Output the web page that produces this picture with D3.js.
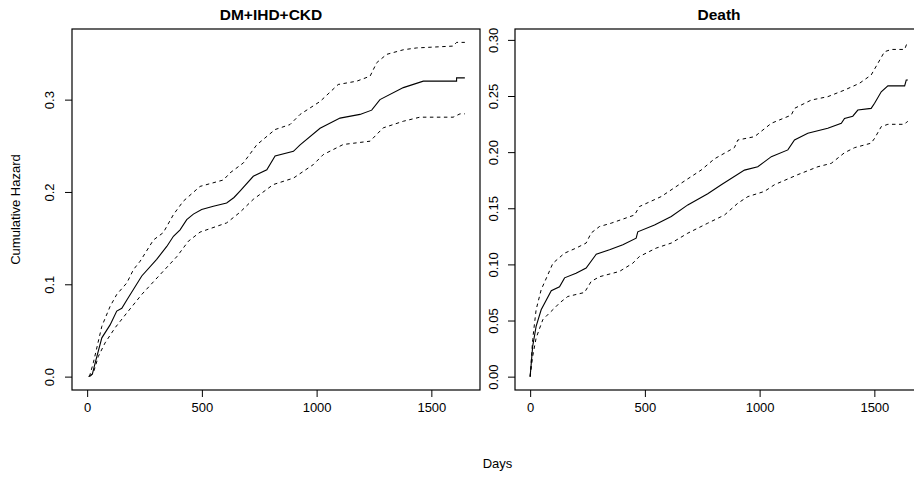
<!DOCTYPE html>
<html>
<head>
<meta charset="utf-8">
<script src="https://cdn.jsdelivr.net/npm/d3@7"></script>
<style>
  body { margin: 0; background: #fff; }
  svg { display: block; overflow: hidden; font-family: "Liberation Sans", Arial, sans-serif; }
</style>
</head>
<body>
<script>
/***** Data *****/
var panelTitles = ["DM+IHD+CKD", "Death"];
var xTicks = [0, 500, 1000, 1500];
var yTicksDm = [0, 0.1, 0.2, 0.3];
var yTicksDeath = [0, 0.05, 0.10, 0.15, 0.20, 0.25, 0.30];

// [days, cumulative hazard]
var dmEst = [[6,0],[23,0.003],[35,0.015],[64,0.042],[100,0.056],[129,0.071],[151,0.074],[173,0.083],[238,0.109],[303,0.127],[347,0.141],[376,0.152],[405,0.159],[434,0.170],[463,0.176],[499,0.181],[550,0.1845],[608,0.188],[640,0.194],[666,0.201],[724,0.217],[783,0.224],[819,0.239],[899,0.244],[928,0.251],[1015,0.269],[1102,0.280],[1189,0.284],[1240,0.2886],[1276,0.300],[1378,0.313],[1465,0.320],[1610,0.320],[1610,0.3236],[1646,0.3236]];
var dmUpper = [[10,0],[27,0.015],[64,0.0545],[100,0.076],[129,0.089],[173,0.1015],[202,0.116],[231,0.125],[289,0.148],[332,0.156],[376,0.1755],[419,0.190],[492,0.206],[594,0.213],[623,0.2207],[681,0.2315],[739,0.251],[819,0.2676],[884,0.273],[928,0.284],[1015,0.298],[1094,0.3164],[1175,0.320],[1233,0.3254],[1262,0.340],[1305,0.349],[1378,0.354],[1436,0.356],[1595,0.358],[1610,0.362],[1646,0.362]];
var dmLower = [[13,0],[27,0.004],[49,0.022],[78,0.0365],[122,0.053],[173,0.069],[238,0.089],[318,0.1105],[391,0.130],[441,0.1466],[492,0.1565],[608,0.1665],[666,0.178],[724,0.192],[811,0.208],[899,0.215],[986,0.2297],[1029,0.2405],[1116,0.2514],[1233,0.255],[1290,0.2694],[1378,0.2766],[1450,0.281],[1595,0.281],[1625,0.2846],[1646,0.2846]];

var deathEst = [[0,0],[11,0.027],[26,0.0447],[48,0.0596],[92,0.0765],[128,0.080],[150,0.088],[200,0.0922],[244,0.0967],[288,0.109],[346,0.113],[404,0.1174],[462,0.1234],[469,0.129],[542,0.135],[615,0.1426],[687,0.153],[774,0.163],[833,0.171],[934,0.184],[992,0.187],[1051,0.196],[1123,0.202],[1152,0.2108],[1210,0.2168],[1297,0.2213],[1356,0.2257],[1370,0.230],[1406,0.232],[1428,0.2375],[1486,0.239],[1501,0.2435],[1530,0.2538],[1559,0.259],[1632,0.259],[1639,0.2642],[1646,0.2642]];
var deathUpper = [[0,0],[11,0.033],[26,0.0596],[48,0.0774],[77,0.0907],[99,0.101],[150,0.110],[200,0.1145],[244,0.119],[266,0.128],[302,0.1337],[353,0.1367],[455,0.144],[476,0.1515],[571,0.1604],[658,0.1723],[745,0.184],[803,0.194],[890,0.204],[905,0.2108],[978,0.2138],[1051,0.2257],[1138,0.233],[1152,0.239],[1225,0.2464],[1297,0.2494],[1370,0.2553],[1435,0.2613],[1486,0.2687],[1515,0.279],[1544,0.2894],[1574,0.2915],[1632,0.2915],[1643,0.2974],[1646,0.2974]];
var deathLower = [[0,0],[11,0.018],[26,0.0344],[55,0.0507],[84,0.0567],[106,0.061],[128,0.0656],[164,0.0714],[237,0.075],[266,0.0848],[302,0.089],[389,0.0937],[447,0.101],[476,0.107],[549,0.1145],[615,0.119],[687,0.1278],[774,0.1367],[847,0.144],[905,0.1545],[949,0.1604],[1021,0.165],[1065,0.171],[1167,0.180],[1254,0.187],[1312,0.190],[1370,0.1995],[1414,0.204],[1486,0.208],[1501,0.2123],[1530,0.2227],[1559,0.2248],[1632,0.2248],[1643,0.2272],[1646,0.2272]];

(function (d3) {
  "use strict";

  /***** Configuration *****/
  var width = 914, height = 478;
  var plotTop = 29, plotBottom = 390;
  var xDomain = [-66, 1712];

  var svg = d3.select("body").append("svg")
      .attr("width", width)
      .attr("height", height);

  var panels = [
    { title: panelTitles[0], left: 72, right: 480, titleX: 271, yDomain: [-0.0145, 0.3765],
      yTicks: yTicksDm, fmt: d3.format(".1f"), labelX: 53.5,
      est: dmEst, upper: dmUpper, lower: dmLower },
    { title: panelTitles[1], left: 515, right: 923, titleX: 719, yDomain: [-0.0119, 0.3097],
      yTicks: yTicksDeath, fmt: d3.format(".2f"), labelX: 498,
      est: deathEst, upper: deathUpper, lower: deathLower }
  ];

  panels.forEach(function (p) {
    var xScale = d3.scaleLinear().domain(xDomain).range([p.left, p.right]);
    var yScale = d3.scaleLinear().domain(p.yDomain).range([plotBottom, plotTop]);

    var g = svg.append("g");

    // x axis
    var xAxis = d3.axisBottom(xScale).tickValues(xTicks).tickSize(7).tickPadding(6)
        .tickFormat(d3.format("d"));
    var gx = g.append("g").attr("transform", "translate(0," + plotBottom + ")").call(xAxis);
    gx.select(".domain").remove();
    gx.selectAll("text").attr("font-size", 13).attr("fill", "#000")
        .attr("font-family", "Liberation Sans, Arial, sans-serif");

    // y axis (labels rotated, as in base R)
    var yAxis = d3.axisLeft(yScale).tickValues(p.yTicks).tickSize(7).tickFormat(p.fmt);
    var gy = g.append("g").attr("transform", "translate(" + p.left + ",0)").call(yAxis);
    gy.select(".domain").remove();
    gy.selectAll("text")
        .attr("font-size", 13).attr("fill", "#000")
        .attr("font-family", "Liberation Sans, Arial, sans-serif")
        .attr("x", null).attr("y", 0).attr("dy", null)
        .attr("text-anchor", "middle")
        .attr("transform", "translate(" + (p.labelX - p.left) + ",0) rotate(-90)");

    // box
    g.append("rect")
        .attr("x", p.left).attr("y", plotTop)
        .attr("width", p.right - p.left).attr("height", plotBottom - plotTop)
        .attr("fill", "none").attr("stroke", "#000").attr("stroke-width", 1.2);

    // curves
    var line = d3.line()
        .x(function (d) { return xScale(d[0]); })
        .y(function (d) { return yScale(d[1]); });

    [p.upper, p.lower].forEach(function (s) {
      g.append("path").datum(s).attr("d", line)
          .attr("fill", "none").attr("stroke", "#000")
          .attr("stroke-width", 1).attr("stroke-dasharray", "3.5,3.5");
    });
    g.append("path").datum(p.est).attr("d", line)
        .attr("fill", "none").attr("stroke", "#000").attr("stroke-width", 1.1);

    // title
    svg.append("text")
        .attr("x", p.titleX).attr("y", 19.5)
        .attr("text-anchor", "middle")
        .attr("font-size", 15.5).attr("font-weight", "bold")
        .text(p.title);
  });

  /***** Axis titles *****/
  svg.append("text")
      .attr("transform", "translate(19.5," + ((plotTop + plotBottom) / 2) + ") rotate(-90)")
      .attr("text-anchor", "middle")
      .attr("font-size", 13)
      .text("Cumulative Hazard");

  svg.append("text")
      .attr("x", 497.5).attr("y", 468)
      .attr("text-anchor", "middle")
      .attr("font-size", 13)
      .text("Days");

})(d3);
</script>
</body>
</html>
